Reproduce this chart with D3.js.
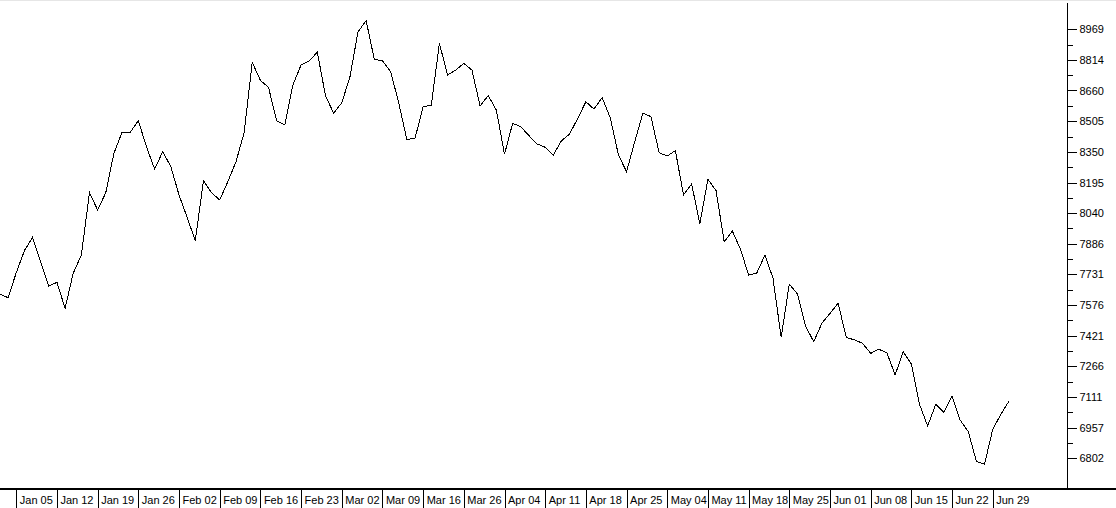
<!DOCTYPE html>
<html>
<head>
<meta charset="utf-8">
<script src="https://cdn.jsdelivr.net/npm/d3@7"></script>
<style>
  html, body { margin: 0; padding: 0; background: #fff; }
  svg { display: block; }
  text { font-family: "Liberation Sans", Arial, sans-serif; font-size: 11px; fill: #000; }
</style>
</head>
<body>
<svg id="chart" width="1116" height="508"></svg>
<script>
// Daily closing values (index 0..124)
const closes = [
  7632, 7613, 7740, 7851, 7918, 7795, 7672, 7691, 7560, 7737,
  7829, 8144, 8056, 8144, 8343, 8449, 8449, 8507, 8376, 8263,
  8351, 8275, 8132, 8019, 7901, 8204, 8144, 8107, 8199, 8300,
  8447, 8802, 8711, 8676, 8506, 8486, 8688, 8789, 8810, 8853,
  8634, 8545, 8598, 8727, 8957, 9012, 8817, 8810, 8755, 8598,
  8413, 8418, 8578, 8585, 8898, 8738, 8763, 8797, 8763, 8582,
  8634, 8561, 8338, 8494, 8477, 8432, 8390, 8373, 8334, 8406,
  8440, 8519, 8603, 8566, 8624, 8522, 8334, 8250, 8401, 8545,
  8528, 8346, 8329, 8356, 8132, 8188, 7986, 8211, 8154, 7896,
  7950, 7858, 7728, 7737, 7829, 7711, 7413, 7682, 7632, 7470,
  7391, 7484, 7534, 7585, 7413, 7400, 7383, 7332, 7353, 7335,
  7223, 7340, 7278, 7075, 6965, 7075, 7034, 7117, 6995, 6936,
  6785, 6773, 6948, 7024, 7091
];

// Weekly date labels (every 5th trading day, starting at index 2)
const dateLabels = [
  "Jan 05", "Jan 12", "Jan 19", "Jan 26", "Feb 02", "Feb 09", "Feb 16", "Feb 23",
  "Mar 02", "Mar 09", "Mar 16", "Mar 26", "Apr 04", "Apr 11", "Apr 18", "Apr 25",
  "May 04", "May 11", "May 18", "May 25", "Jun 01", "Jun 08", "Jun 15", "Jun 22", "Jun 29"
];
const dateLabelIndex = dateLabels.map((d, k) => 2 + 5 * k);

// Price axis labels
const priceTicks = [8969, 8814, 8660, 8505, 8350, 8195, 8040, 7886, 7731, 7576, 7421, 7266, 7111, 6957, 6802];

const svg = d3.select("#chart");
const W = 1116, H = 508;
const axisX = 1067.5;   // right axis line
const axisY = 488;      // bottom axis line (top of 2px line)

const x = d3.scaleLinear().domain([0, closes.length - 1]).range([0, 1009]);
const y = d3.scaleLinear().domain([6802, 8969]).range([458.3, 29.3]);

// faint top border
svg.append("line")
  .attr("x1", 0).attr("x2", W).attr("y1", 0.5).attr("y2", 0.5)
  .attr("stroke", "#e6e6e6").attr("stroke-width", 1);

// price line
svg.append("path")
  .datum(closes)
  .attr("fill", "none")
  .attr("stroke", "#000")
  .attr("stroke-width", 1)
  .attr("shape-rendering", "crispEdges")
  .attr("d", d3.line().x((d, i) => x(i)).y(d => y(d)));

// right axis
const yAxis = d3.axisRight(y)
  .tickValues(priceTicks)
  .tickFormat(d => String(d))
  .tickSize(9)
  .tickSizeOuter(0)
  .tickPadding(3);
const gy = svg.append("g")
  .attr("transform", `translate(${axisX},0)`)
  .call(yAxis);
gy.select(".domain").remove();
gy.selectAll(".tick line").attr("stroke", "#000").attr("shape-rendering", "crispEdges");
gy.selectAll(".tick text")
  .attr("font-family", "'Liberation Sans', Arial, sans-serif")
  .attr("font-size", 11)
  .attr("fill", "#000");

// minor ticks between majors
const minor = d3.pairs(priceTicks).map(([a, b]) => (a + b) / 2);
gy.selectAll(".minor")
  .data(minor)
  .join("line")
  .attr("class", "minor")
  .attr("x1", 0).attr("x2", 5)
  .attr("y1", d => Math.round(y(d)) + 0.5)
  .attr("y2", d => Math.round(y(d)) + 0.5)
  .attr("stroke", "#000")
  .attr("shape-rendering", "crispEdges");

svg.append("line")
  .attr("x1", axisX).attr("x2", axisX)
  .attr("y1", 3).attr("y2", axisY + 1)
  .attr("stroke", "#000").attr("stroke-width", 1)
  .attr("shape-rendering", "crispEdges");

// bottom axis with date boxes
const xAxis = d3.axisBottom(x)
  .tickValues(dateLabelIndex)
  .tickFormat((d, k) => dateLabels[k])
  .tickSize(H - axisY)
  .tickSizeOuter(0);
const gx = svg.append("g")
  .attr("transform", `translate(0,${axisY})`)
  .call(xAxis);
gx.select(".domain").remove();
gx.selectAll(".tick line").attr("stroke", "#000").attr("shape-rendering", "crispEdges");
gx.selectAll(".tick text")
  .attr("text-anchor", "start")
  .attr("x", 3)
  .attr("y", 16)
  .attr("dy", 0)
  .attr("font-family", "'Liberation Sans', Arial, sans-serif")
  .attr("font-size", 11)
  .attr("fill", "#000");

svg.append("rect")
  .attr("x", 0).attr("y", axisY)
  .attr("width", W).attr("height", 2)
  .attr("fill", "#000");
</script>
</body>
</html>
